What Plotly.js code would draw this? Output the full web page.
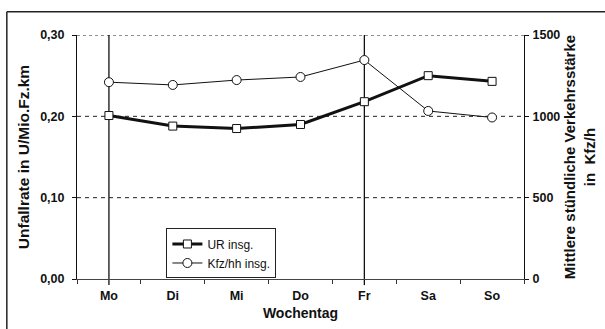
<!DOCTYPE html>
<html>
<head>
<meta charset="utf-8">
<script src="https://cdn.plot.ly/plotly-3.0.1.min.js"></script>
<style>
html,body{margin:0;padding:0;background:#fff;}
#chart{width:605px;height:329px;}
</style>
</head>
<body>
<div id="chart"></div>
<script>
// Data
const days = ['Mo','Di','Mi','Do','Fr','Sa','So'];
const urInsg = [0.201, 0.188, 0.185, 0.190, 0.218, 0.250, 0.243];
const kfzInsg = [1210, 1193, 1223, 1242, 1346, 1033, 993];
const leftTickVals = [0, 0.1, 0.2, 0.3];
const leftTickText = ['0,00', '0,10', '0,20', '0,30'];
const rightTickVals = [0, 500, 1000, 1500];
const rightTickText = ['0', '500', '1000', '1500'];
const markedDays = ['Mo', 'Fr'];

const FONT = 'Liberation Sans, Arial, sans-serif';

const traces = [
  {
    x: days, y: urInsg, name: 'UR insg.', type: 'scatter', mode: 'lines+markers',
    line: {color: '#111', width: 3},
    marker: {symbol: 'square', size: 8, color: '#fff', line: {color: '#111', width: 1}},
    yaxis: 'y'
  },
  {
    x: days, y: kfzInsg, name: 'Kfz/hh insg.', type: 'scatter', mode: 'lines+markers',
    line: {color: '#111', width: 1},
    marker: {symbol: 'circle', size: 9, color: '#fff', line: {color: '#111', width: 1}},
    yaxis: 'y2'
  }
];

const shapes = [];
// horizontal gridlines
leftTickVals.forEach(v => {
  if (v === 0) return;
  shapes.push({type: 'line', xref: 'paper', x0: 0, x1: 1, yref: 'y', y0: v, y1: v,
    line: {color: '#222', width: 1, dash: v === 0.3 ? 'dot' : '4px,4px'}, layer: 'below'});
});
// vertical lines at Mo and Fr
markedDays.forEach(d => {
  const i = days.indexOf(d);
  shapes.push({type: 'line', xref: 'x', x0: i, x1: i, yref: 'paper', y0: -0.025, y1: 1,
    line: {color: '#111', width: 1.3}, layer: 'below'});
});
// outer frame: left and top edges only (right/bottom lie outside the picture)
shapes.push({type: 'line', xref: 'paper', yref: 'paper',
  x0: -0.157, x1: -0.157, y0: -0.3, y1: 1.095, line: {color: '#222', width: 1.5}});
shapes.push({type: 'line', xref: 'paper', yref: 'paper',
  x0: -0.157, x1: 1.2, y0: 1.095, y1: 1.095, line: {color: '#222', width: 1.5}});

const layout = {
  width: 605, height: 329,
  margin: {l: 77, r: 81, t: 35, b: 50},
  paper_bgcolor: '#fff', plot_bgcolor: '#fff',
  font: {family: FONT, color: '#111', size: 12},
  showlegend: true,
  legend: {
    x: 0.2, y: 0.207, xanchor: 'left', yanchor: 'top',
    bgcolor: '#fff', bordercolor: '#222', borderwidth: 1,
    font: {family: FONT, size: 12, color: '#111'},
    tracegroupgap: 2, itemwidth: 30
  },
  xaxis: {
    type: 'category', range: [-0.5, 6.5],
    showgrid: false, zeroline: false,
    showline: true, linecolor: '#444', linewidth: 1,
    ticks: 'outside', tickson: 'boundaries', ticklen: 4, tickcolor: '#333',
    ticklabelstandoff: 5,
    tickfont: {family: FONT, size: 12.5, color: '#111', weight: 'bold'},
    title: {text: 'Wochentag', font: {family: FONT, size: 14, weight: 'bold', color: '#111'}, standoff: 6}
  },
  yaxis: {
    range: [0, 0.3], tickvals: leftTickVals, ticktext: leftTickText,
    showgrid: false, zeroline: false,
    showline: true, linecolor: '#111', linewidth: 1,
    ticks: 'outside', ticklen: 4, tickcolor: '#111',
    ticklabelstandoff: 5,
    tickfont: {family: FONT, size: 12.5, color: '#111', weight: 'bold'},
    title: {text: 'Unfallrate in U/Mio.Fz.km', font: {family: FONT, size: 15.5, weight: 'bold', color: '#111'}, standoff: 6}
  },
  yaxis2: {
    overlaying: 'y', side: 'right',
    range: [0, 1500], tickvals: rightTickVals, ticktext: rightTickText,
    showgrid: false, zeroline: false,
    showline: true, linecolor: '#111', linewidth: 1,
    ticks: 'outside', ticklen: 4, tickcolor: '#111',
    ticklabelstandoff: 1,
    tickfont: {family: FONT, size: 12.5, color: '#111', weight: 'bold'},
    title: {text: 'Mittlere stündliche Verkehrsstärke<br>in  Kfz/h', font: {family: FONT, size: 15, weight: 'bold', color: '#111'}, standoff: 5}
  },
  shapes: shapes
};

Plotly.newPlot('chart', traces, layout, {displayModeBar: false, staticPlot: true});
</script>
</body>
</html>
